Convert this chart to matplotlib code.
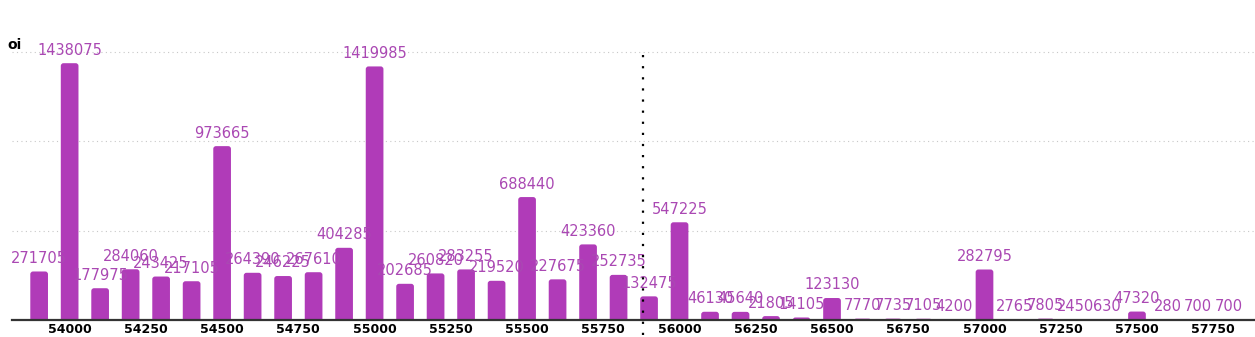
from matplotlib import pyplot as plt
from matplotlib.patches import FancyBboxPatch
import numpy

strikes = list(range(53900, 57900, 100))
oi = [271705, 1438075, 177975, 284060, 243425, 217105, 973665, 264390, 246225, 267610,
      404285, 1419985, 202685, 260820, 283255, 219520, 688440, 227675, 423360, 252735,
      132475, 547225, 46130, 45640, 21805, 14105, 123130, 7770, 7735, 7105,
      4200, 282795, 2765, 7805, 2450, 630, 47320, 280, 700, 700]
spot = 55880
xticks = [54000, 54250, 54500, 54750, 55000, 55250, 55500, 55750, 56000,
          56250, 56500, 56750, 57000, 57250, 57500, 57750]

bar_color = '#b03bb8'
label_color = '#aa48b3'

fig = plt.figure(figsize=(12.55, 3.37), dpi=100)
ax = fig.add_axes([12/1255., 17/337., 1 - 12/1255., 275/337.])

ax.set_xlim(53811, 57887)
ax.set_ylim(0, 1540000)

# light dotted grid
for g in (500000, 1000000, 1500000):
    ax.axhline(g, color='#c8c8c8', lw=0.8, ls=(0, (1, 3)), zorder=0)

bars = ax.bar(strikes, oi, width=58, color=bar_color, zorder=2)
# rounded tops: swap rectangles for rounded boxes, bottom pushed under the axis
for b in bars:
    x, w, h = b.get_x(), b.get_width(), b.get_height()
    b.remove()
    r = 9
    p = FancyBboxPatch((x, -r * 1700), w, h + r * 1700,
                       boxstyle="round,pad=0,rounding_size=%g" % r,
                       mutation_aspect=1700, facecolor=bar_color,
                       edgecolor='none', zorder=2)
    ax.add_patch(p)

for s, v in zip(strikes, oi):
    ax.annotate(str(v), (s, v), xytext=(0, 4), textcoords='offset points',
                ha='center', va='bottom', fontsize=10.5, color=label_color)

ax.plot([spot, spot], [-85000, 1510000], color='black', lw=1.6,
        ls=(0, (1, 4)), clip_on=False, zorder=3)

ax.set_xticks(xticks)
ax.set_xticklabels([str(t) for t in xticks], fontsize=9, fontweight='bold')
ax.tick_params(axis='x', length=0, pad=2)
ax.set_yticks([])
for s in ('left', 'top', 'right'):
    ax.spines[s].set_visible(False)
ax.spines['bottom'].set_color('#333333')
ax.spines['bottom'].set_linewidth(1.6)
ax.spines['bottom'].set_zorder(4)

fig.text(7/1255., 1 - 45/337., 'oi', fontsize=10, fontweight='bold', va='center')

fig.savefig("out.png", dpi=100)
